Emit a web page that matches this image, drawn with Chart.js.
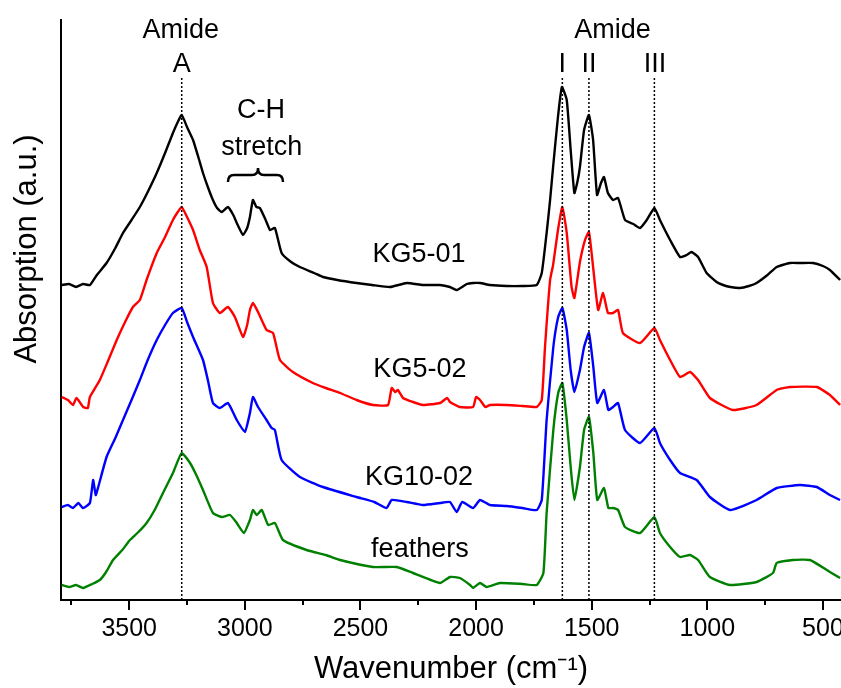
<!DOCTYPE html>
<html lang="en">
<head>
<meta charset="UTF-8">
<title>FTIR spectra</title>
<style>
    body {
        margin: 0;
        background: #fff;
    }

    .chart-box {
        position: relative;
        width: 841px;
        height: 688px;
    }
</style>
</head>
<body>
<div class="chart-box"><canvas id="ftirChart"></canvas></div>
<script src="https://cdn.jsdelivr.net/npm/chart.js"></script>
<script>
    // wavenumbers (cm-1) and stacked absorption (a.u.)
    const kg501Wn = [3792, 3760, 3730, 3700, 3670, 3640, 3598, 3560, 3527, 3490, 3454, 3420, 3381, 3345, 3311, 3290, 3273, 3250, 3224, 3200, 3181, 3160, 3138, 3120, 3100, 3073, 3050, 3035, 3008, 2990, 2978, 2965, 2950, 2935, 2910, 2891, 2870, 2841, 2800, 2762, 2700, 2662, 2600, 2517, 2450, 2372, 2300, 2230, 2156, 2113, 2084, 2040, 2013, 1983, 1940, 1868, 1800, 1738, 1716, 1695, 1680, 1667, 1646, 1629, 1608, 1591, 1575, 1562, 1551, 1533, 1512, 1494, 1477, 1460, 1447, 1430, 1408, 1386, 1356, 1320, 1291, 1262, 1229, 1205, 1161, 1118, 1090, 1068, 1040, 1003, 960, 932, 900, 859, 820, 787, 740, 700, 643, 600, 543, 500, 470, 426];
    const kg501Abs = [3.15, 3.16, 3.13, 3.16, 3.15, 3.25, 3.37, 3.52, 3.67, 3.80, 3.93, 4.08, 4.27, 4.47, 4.67, 4.78, 4.85, 4.73, 4.60, 4.42, 4.27, 4.13, 4.00, 3.92, 3.88, 3.93, 3.85, 3.77, 3.65, 3.72, 3.83, 4.00, 3.93, 3.92, 3.80, 3.70, 3.72, 3.47, 3.38, 3.33, 3.27, 3.23, 3.20, 3.17, 3.15, 3.13, 3.17, 3.15, 3.15, 3.13, 3.10, 3.16, 3.17, 3.17, 3.15, 3.14, 3.14, 3.15, 3.27, 3.67, 4.00, 4.33, 4.83, 5.13, 5.00, 4.50, 4.07, 4.18, 4.33, 4.70, 4.85, 4.60, 4.05, 4.17, 4.23, 4.07, 4.00, 4.02, 3.80, 3.76, 3.72, 3.80, 3.92, 3.80, 3.60, 3.43, 3.45, 3.48, 3.43, 3.27, 3.18, 3.15, 3.13, 3.12, 3.14, 3.17, 3.25, 3.33, 3.37, 3.37, 3.37, 3.34, 3.30, 3.20];

    const kg502Wn = [3792, 3765, 3743, 3728, 3699, 3679, 3670, 3627, 3590, 3554, 3520, 3484, 3454, 3425, 3381, 3345, 3311, 3290, 3273, 3250, 3224, 3195, 3165, 3138, 3108, 3073, 3043, 3008, 2990, 2978, 2965, 2943, 2906, 2878, 2848, 2792, 2706, 2650, 2588, 2517, 2446, 2381, 2365, 2350, 2338, 2316, 2273, 2230, 2156, 2125, 2113, 2070, 2013, 2000, 1983, 1960, 1940, 1868, 1800, 1738, 1716, 1702, 1680, 1667, 1646, 1627, 1608, 1587, 1575, 1551, 1529, 1512, 1494, 1472, 1451, 1430, 1408, 1386, 1365, 1291, 1229, 1205, 1161, 1118, 1075, 1040, 989, 889, 787, 700, 643, 527, 470, 426];
    const kg502Abs = [2.03, 2.00, 1.95, 2.02, 1.93, 1.92, 2.03, 2.20, 2.40, 2.60, 2.77, 2.93, 3.00, 3.20, 3.47, 3.63, 3.80, 3.88, 3.93, 3.83, 3.70, 3.50, 3.33, 2.97, 2.87, 2.93, 2.83, 2.63, 2.75, 2.90, 2.97, 2.88, 2.70, 2.67, 2.40, 2.28, 2.17, 2.12, 2.07, 2.00, 1.95, 1.95, 2.12, 2.08, 2.10, 2.02, 1.98, 1.95, 1.97, 2.02, 1.98, 1.93, 1.93, 2.03, 2.00, 1.93, 1.95, 1.95, 1.94, 1.93, 2.00, 2.53, 3.20, 3.35, 3.70, 3.93, 3.67, 3.13, 3.02, 3.38, 3.60, 3.68, 3.33, 2.90, 3.07, 2.87, 2.87, 2.90, 2.67, 2.57, 2.72, 2.60, 2.40, 2.23, 2.28, 2.20, 2.02, 1.90, 1.95, 2.10, 2.13, 2.13, 2.05, 1.95];

    const kg1002Wn = [3792, 3765, 3743, 3720, 3700, 3670, 3656, 3645, 3634, 3598, 3560, 3527, 3490, 3454, 3420, 3381, 3345, 3311, 3273, 3250, 3224, 3181, 3160, 3138, 3108, 3073, 3035, 3000, 2978, 2965, 2943, 2906, 2884, 2870, 2841, 2762, 2662, 2517, 2440, 2387, 2365, 2300, 2230, 2156, 2113, 2084, 2060, 2013, 1983, 1940, 1868, 1800, 1738, 1716, 1695, 1666, 1645, 1627, 1608, 1591, 1575, 1551, 1533, 1512, 1493, 1476, 1447, 1428, 1408, 1386, 1356, 1291, 1229, 1205, 1161, 1118, 1046, 989, 902, 787, 700, 599, 527, 470, 426];
    const kg1002Abs = [0.93, 0.95, 0.92, 0.97, 0.92, 0.97, 1.20, 1.05, 1.13, 1.43, 1.62, 1.80, 2.00, 2.20, 2.40, 2.60, 2.75, 2.87, 2.92, 2.78, 2.63, 2.40, 2.20, 1.97, 1.92, 1.97, 1.80, 1.68, 1.87, 2.03, 1.93, 1.80, 1.72, 1.70, 1.40, 1.23, 1.13, 1.03, 0.98, 0.92, 1.00, 0.98, 0.95, 0.97, 0.98, 0.88, 0.98, 0.92, 1.00, 0.95, 0.94, 0.92, 0.90, 1.00, 1.80, 2.53, 2.83, 2.92, 2.70, 2.30, 2.08, 2.30, 2.53, 2.67, 2.33, 1.97, 2.10, 1.90, 1.93, 1.97, 1.70, 1.57, 1.72, 1.57, 1.40, 1.27, 1.20, 1.03, 0.90, 1.00, 1.12, 1.15, 1.13, 1.05, 1.00];

    const feathersWn = [3792, 3760, 3730, 3700, 3660, 3627, 3600, 3570, 3530, 3497, 3460, 3425, 3390, 3354, 3311, 3273, 3237, 3210, 3181, 3138, 3100, 3064, 3035, 3004, 2978, 2965, 2948, 2927, 2899, 2870, 2835, 2733, 2650, 2588, 2446, 2343, 2273, 2156, 2113, 2070, 2026, 2013, 1983, 1954, 1897, 1800, 1738, 1709, 1695, 1666, 1645, 1627, 1608, 1591, 1575, 1551, 1533, 1512, 1493, 1476, 1447, 1428, 1408, 1386, 1356, 1291, 1229, 1205, 1161, 1118, 1075, 1040, 989, 902, 787, 716, 700, 630, 556, 470, 426];
    const feathersAbs = [0.15, 0.13, 0.15, 0.12, 0.16, 0.20, 0.28, 0.40, 0.50, 0.60, 0.68, 0.77, 0.90, 1.07, 1.27, 1.47, 1.37, 1.25, 1.10, 0.87, 0.83, 0.85, 0.77, 0.67, 0.80, 0.90, 0.85, 0.90, 0.75, 0.77, 0.60, 0.50, 0.45, 0.40, 0.33, 0.33, 0.27, 0.17, 0.23, 0.22, 0.15, 0.12, 0.17, 0.13, 0.17, 0.16, 0.15, 0.27, 0.87, 1.70, 2.07, 2.17, 1.80, 1.33, 1.00, 1.33, 1.70, 1.83, 1.47, 1.00, 1.12, 0.92, 0.92, 0.90, 0.73, 0.67, 0.83, 0.67, 0.53, 0.43, 0.45, 0.40, 0.23, 0.15, 0.18, 0.27, 0.37, 0.40, 0.40, 0.28, 0.22];

    const seriesNames = ['KG5-01', 'KG5-02', 'KG10-02', 'feathers'];
    const seriesColors = ['#000000', '#ff0000', '#0000ff', '#008000'];
    const seriesWn = [kg501Wn, kg502Wn, kg1002Wn, feathersWn];
    const seriesAbs = [kg501Abs, kg502Abs, kg1002Abs, feathersAbs];

    // band positions marked by dotted lines
    const bandWn = [3273, 1627, 1512, 1229];
    const bandTop = 5.23;

    const xTicks = [3500, 3000, 2500, 2000, 1500, 1000, 500];
    const xMinorTicks = [3750, 3250, 2750, 2250, 1750, 1250, 750];

    // text labels: [text, wavenumber, baseline value]
    const labels = [
        ['Amide', 3277, 5.62],
        ['A', 3273, 5.28],
        ['C-H', 2930, 4.82],
        ['stretch', 2927, 4.45],
        ['Amide', 1410, 5.62],
        ['I', 1627, 5.28],
        ['II', 1512, 5.28],
        ['III', 1226, 5.28],
        ['KG5-01', 2247, 3.38],
        ['KG5-02', 2243, 2.23],
        ['KG10-02', 2247, 1.15],
        ['feathers', 2243, 0.43]
    ];

    const FONT = '"Liberation Sans", Arial, sans-serif';
    Chart.defaults.font.family = FONT;
    Chart.defaults.color = '#000';

    const datasets = [];
    bandWn.forEach(w => {
        datasets.push({
            data: [{ x: w, y: 0 }, { x: w, y: bandTop }],
            borderColor: '#000',
            borderWidth: 1.5,
            borderDash: [2, 2],
            pointRadius: 0
        });
    });
    seriesNames.forEach((name, i) => {
        datasets.push({
            label: name,
            data: seriesWn[i].map((w, j) => ({ x: w, y: seriesAbs[i][j] })),
            borderColor: seriesColors[i],
            borderWidth: 2.4,
            pointRadius: 0,
            tension: 0.15
        });
    });

    const annotate = {
        id: 'annotate',
        afterDraw(chart) {
            const { ctx, chartArea } = chart;
            const x = chart.scales.x;
            const y = chart.scales.y;
            ctx.save();

            // minor ticks
            ctx.strokeStyle = '#000';
            ctx.lineWidth = 2;
            xMinorTicks.forEach(v => {
                const px = Math.round(x.getPixelForValue(v));
                ctx.beginPath();
                ctx.moveTo(px, chartArea.bottom);
                ctx.lineTo(px, chartArea.bottom + 5);
                ctx.stroke();
            });

            // text
            ctx.fillStyle = '#000';
            ctx.font = '27px ' + FONT;
            ctx.textAlign = 'center';
            ctx.textBaseline = 'alphabetic';
            labels.forEach(l => {
                ctx.fillText(l[0], x.getPixelForValue(l[1]), y.getPixelForValue(l[2]));
            });

            // brace under "stretch"
            const x1 = x.getPixelForValue(3073);
            const x2 = x.getPixelForValue(2835);
            const xm = x.getPixelForValue(2943);
            const yEnd = y.getPixelForValue(4.18);
            const yBody = y.getPixelForValue(4.25);
            const yTip = y.getPixelForValue(4.32);
            const r = 6;
            ctx.lineWidth = 2.5;
            ctx.beginPath();
            ctx.moveTo(x1, yEnd);
            ctx.quadraticCurveTo(x1, yBody, x1 + r, yBody);
            ctx.lineTo(xm - r, yBody);
            ctx.quadraticCurveTo(xm, yBody, xm, yTip);
            ctx.quadraticCurveTo(xm, yBody, xm + r, yBody);
            ctx.lineTo(x2 - r, yBody);
            ctx.quadraticCurveTo(x2, yBody, x2, yEnd);
            ctx.stroke();

            // y axis title
            ctx.font = '31px ' + FONT;
            ctx.textBaseline = 'middle';
            ctx.translate(27, 249);
            ctx.rotate(-Math.PI / 2);
            ctx.fillText('Absorption (a.u.)', 0, 0);
            ctx.restore();
        }
    };

    new Chart(document.getElementById('ftirChart'), {
        type: 'line',
        data: { datasets },
        options: {
            responsive: true,
            maintainAspectRatio: false,
            animation: false,
            layout: { padding: { top: 20, left: 0, right: 0, bottom: 0 } },
            plugins: {
                legend: { display: false },
                tooltip: { enabled: false }
            },
            scales: {
                x: {
                    type: 'linear',
                    reverse: true,
                    min: 422,
                    max: 3795,
                    afterFit: s => { s.height = 88; s.paddingLeft = 0; s.paddingRight = 0; },
                    afterBuildTicks: s => { s.ticks = xTicks.map(v => ({ value: v })); },
                    ticks: {
                        font: { size: 25 },
                        color: '#000',
                        padding: 4,
                        maxRotation: 0,
                        autoSkip: false,
                        callback: v => String(v)
                    },
                    grid: {
                        display: true,
                        drawOnChartArea: false,
                        drawTicks: true,
                        tickLength: 10,
                        color: '#000',
                        lineWidth: 2
                    },
                    border: { display: true, color: '#000', width: 2 },
                    title: {
                        display: true,
                        text: 'Wavenumber (cm\u207B\u00B9)',
                        font: { size: 31 },
                        color: '#000',
                        padding: { top: 0, bottom: 0 }
                    }
                },
                y: {
                    min: 0,
                    max: 5.8,
                    afterFit: s => { s.width = 61; },
                    ticks: { display: false },
                    grid: { display: false },
                    border: { display: true, color: '#000', width: 2 }
                }
            }
        },
        plugins: [annotate]
    });
</script>
</body>
</html>
